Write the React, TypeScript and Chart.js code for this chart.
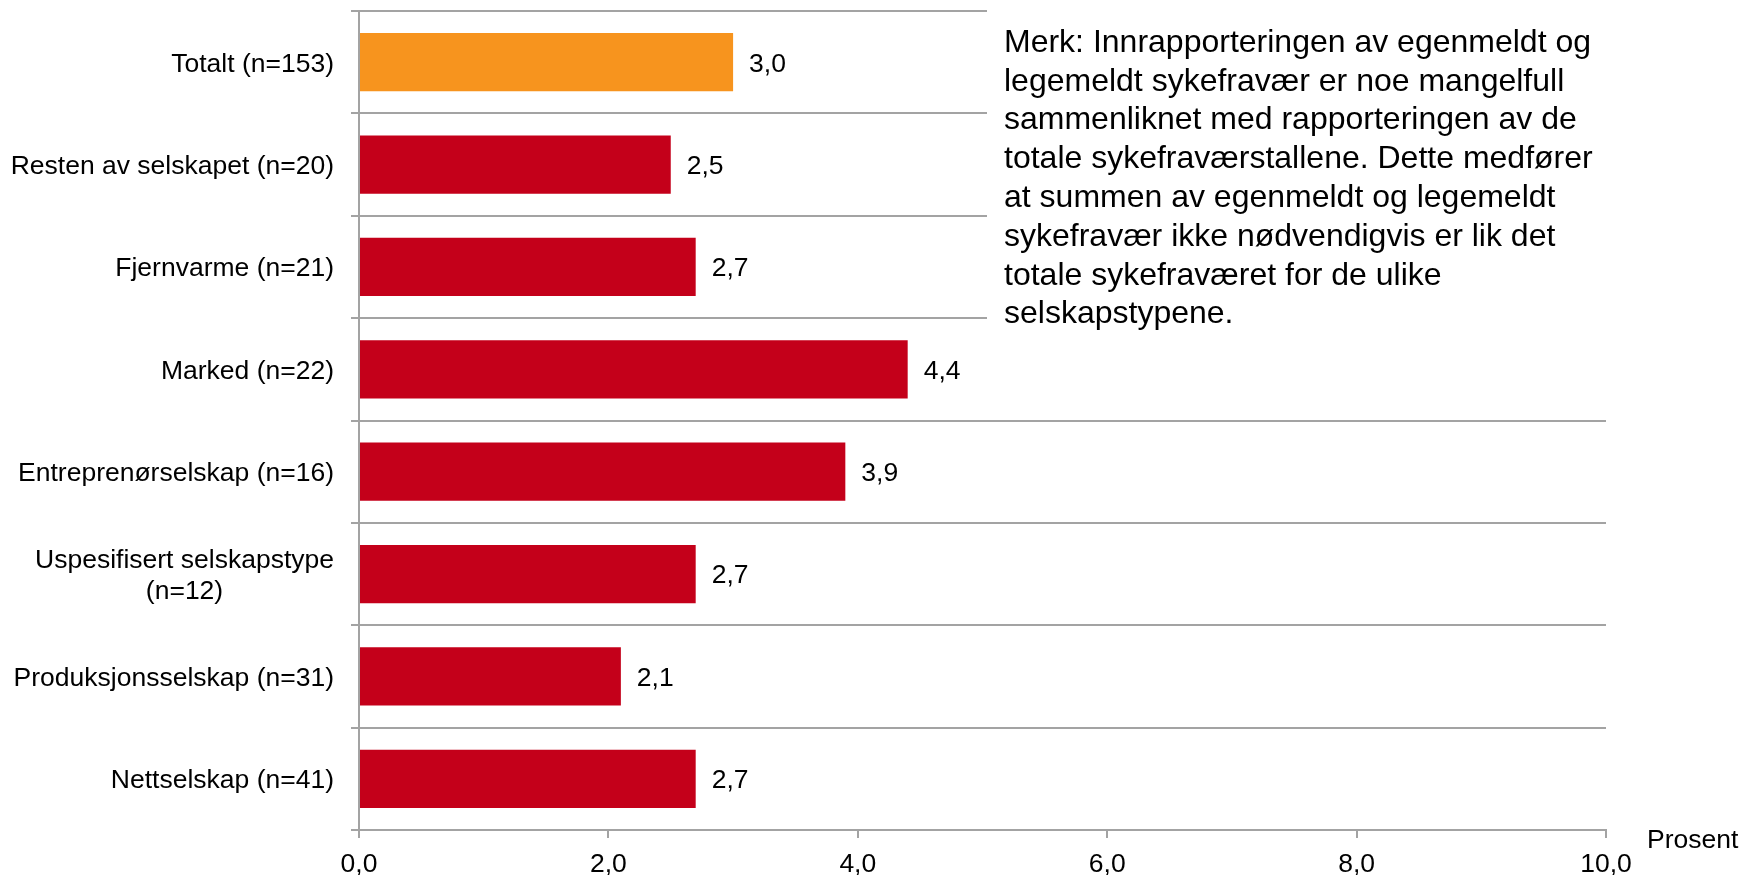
import React, { useEffect, useRef } from "react";
import { Chart, registerables } from "chart.js";

Chart.register(...registerables);

const categories: (string | string[])[] = [
  "Totalt (n=153)",
  "Resten av selskapet (n=20)",
  "Fjernvarme (n=21)",
  "Marked (n=22)",
  "Entreprenørselskap (n=16)",
  ["Uspesifisert selskapstype", "(n=12)"],
  "Produksjonsselskap (n=31)",
  "Nettselskap (n=41)",
];
const values = [3.0, 2.5, 2.7, 4.4, 3.9, 2.7, 2.1, 2.7];
const xTicks = [0, 2, 4, 6, 8, 10];
const axisTitle = "Prosent";
const noteLines = [
  "Merk: Innrapporteringen av egenmeldt og",
  "legemeldt sykefravær er noe mangelfull",
  "sammenliknet med rapporteringen av de",
  "totale sykefraværstallene. Dette medfører",
  "at summen av egenmeldt og legemeldt",
  "sykefravær ikke nødvendigvis er lik det",
  "totale sykefraværet for de ulike",
  "selskapstypene.",
];

const FONT = "'Liberation Sans', Arial, sans-serif";
const ORANGE = "#F7941E";
const RED = "#C4001A";
const GRID = "#a3a3a3";
const LABEL_SIZE = 26.5;

const fmt = (v: number) => v.toFixed(1).replace(".", ",");

export default function App() {
  const ref = useRef<HTMLCanvasElement | null>(null);

  useEffect(() => {
    if (!ref.current) return;
    const overlay = {
      id: "overlay",
      afterDatasetsDraw(chart: any) {
        const ctx = chart.ctx;
        const meta = chart.getDatasetMeta(0);
        ctx.save();
        ctx.font = `${LABEL_SIZE}px ${FONT}`;
        ctx.fillStyle = "#000";
        ctx.textAlign = "left";
        ctx.textBaseline = "middle";
        meta.data.forEach((bar: any, i: number) => {
          ctx.fillText(fmt(values[i]), bar.x + 16, bar.y + 2);
        });
        ctx.restore();
      },
      afterDraw(chart: any) {
        const ctx = chart.ctx;
        const ys = chart.scales.y;
        const xs = chart.scales.x;
        ctx.save();
        // y category labels
        ctx.font = `${LABEL_SIZE}px ${FONT}`;
        ctx.fillStyle = "#000";
        ctx.textBaseline = "middle";
        const rightX = chart.chartArea.left - 25;
        const labels = ys.getLabels();
        labels.forEach((lab: string | string[], i: number) => {
          const lines = Array.isArray(lab) ? lab : [lab];
          const y = ys.getPixelForValue(i);
          const lh = 31;
          const maxW = Math.max(...lines.map((l) => ctx.measureText(l).width));
          const cx = rightX - maxW / 2;
          ctx.textAlign = "center";
          lines.forEach((l, k) => {
            const ly = y + (k - (lines.length - 1) / 2) * lh + 2;
            ctx.fillText(l, cx, ly);
          });
        });
        // axis title
        ctx.textAlign = "left";
        ctx.fillText(axisTitle, xs.right + 41, xs.top + 11);
        // note box
        ctx.fillStyle = "#fff";
        ctx.fillRect(987, 0, chart.width - 987, 382);
        ctx.fillStyle = "#000";
        ctx.font = `32px ${FONT}`;
        ctx.textAlign = "left";
        noteLines.forEach((l, k) => {
          ctx.fillText(l, 1004, 43 + k * 38.8);
        });
        ctx.restore();
      },
    };

    const chart = new Chart(ref.current, {
      type: "bar",
      data: {
        labels: categories as any,
        datasets: [
          {
            data: values,
            backgroundColor: values.map((_, i) => (i === 0 ? ORANGE : RED)),
            borderWidth: 0,
            barPercentage: 0.57,
            categoryPercentage: 1,
          },
        ],
      },
      options: {
        indexAxis: "y",
        responsive: false,
        animation: false,
        layout: { padding: { top: 11, right: 142, left: 0, bottom: 0 } },
        plugins: {
          legend: { display: false },
          tooltip: { enabled: false },
        },
        scales: {
          y: {
            type: "category",
            offset: true,
            grid: {
              offset: true,
              color: GRID,
              lineWidth: 2,
              tickLength: 8,
              drawOnChartArea: true,
              drawTicks: true,
            },
            border: { display: true, color: GRID, width: 2 },
            ticks: { display: false },
            afterFit: (s: any) => {
              s.width = 359;
            },
          },
          x: {
            type: "linear",
            min: 0,
            max: 10,
            afterBuildTicks: (s: any) => {
              s.ticks = xTicks.map((v) => ({ value: v }));
            },
            grid: {
              drawOnChartArea: false,
              drawTicks: true,
              tickLength: 8,
              color: GRID,
              lineWidth: 2,
            },
            border: { display: true, color: GRID, width: 2 },
            ticks: {
              color: "#000",
              font: { family: FONT, size: LABEL_SIZE },
              padding: 11,
              maxRotation: 0,
              callback: (v: any) => fmt(Number(v)),
            },
            afterFit: (s: any) => {
              s.height = 45;
            },
          },
        },
      },
      plugins: [overlay],
    });
    return () => chart.destroy();
  }, []);

  return (
    <div style={{ position: "absolute", left: 0, top: 0, width: 1748, height: 875, background: "#fff" }}>
      <canvas ref={ref} width={1748} height={875} style={{ width: 1748, height: 875, display: "block" }} />
    </div>
  );
}
